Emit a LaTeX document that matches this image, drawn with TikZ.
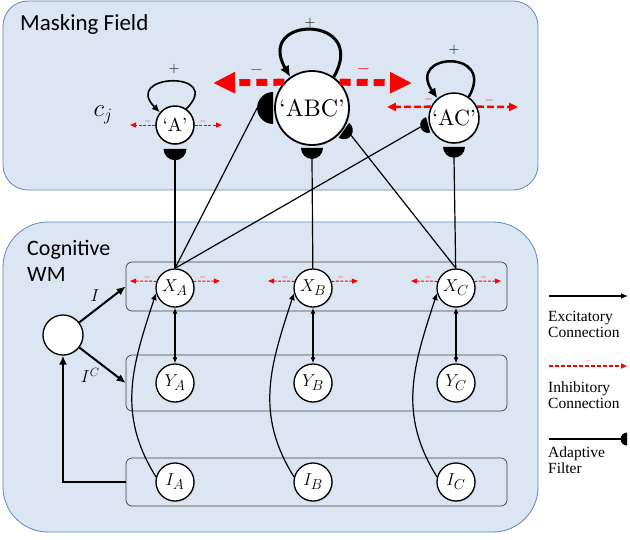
\documentclass[tikz,border=0pt]{standalone}
\usepackage{fontspec}
\newfontfamily\titlefont{Carlito}
\newfontfamily\keyfont{Liberation Serif}
\newfontfamily\chunkfont{lmroman10-regular}[Extension=.otf]
\usepackage{tikz}
\usetikzlibrary{arrows.meta, calc, shadows}

\definecolor{fieldfill}{RGB}{220,230,242}
\definecolor{fieldline}{RGB}{95,135,190}
\definecolor{inhred}{RGB}{250,0,0}

% half disc of an adaptive filter, flat side on the node
\newcommand{\halfdisc}[5]{%
  \coordinate (#5) at ($(#1.#2)+(#2:#4pt)+(#2:#3pt)$);
  \fill ($(#1.#2)+(#2:#4pt)+(#2+90:#3pt)$) arc[start angle=#2+90, end angle=#2-90, radius=#3pt] -- cycle;}

\begin{document}
\begin{tikzpicture}[x=1pt, y=-1pt]
  \tikzstyle{field} = [
    draw=fieldline,
    fill=fieldfill,
    line width=0.8pt
  ]

  \tikzstyle{row} = [
    draw=black!75,
    rounded corners=6pt,
    line width=0.7pt,
    inner sep=0pt,
    minimum width=381pt
  ]

  \tikzstyle{cell} = [
    circle,
    draw,
    fill=white,
    line width=1.3pt,
    inner sep=0pt,
    minimum size=38pt,
    font=\fontsize{19}{19}\selectfont,
    drop shadow={shadow xshift=1pt, shadow yshift=-1pt, opacity=0.3}
  ]

  \tikzstyle{excite} = [line width=1.2pt, -{Latex[length=7pt, width=6pt]}]
  \tikzstyle{both} = [line width=1.2pt, {Latex[length=6pt, width=5pt]}-{Latex[length=6pt, width=5pt]}]
  \tikzstyle{link} = [line width=1.2pt]
  \tikzstyle{inhib} = [inhred, line width=1pt, dash pattern=on 3pt off 1.5pt, -{Triangle[length=6pt, width=5pt]}]
  \tikzstyle{inhibmid} = [inhred, line width=2.5pt, dash pattern=on 7pt off 3pt, -{Triangle[length=9pt, width=8pt]}]
  \tikzstyle{inhibbig} = [inhred, line width=7pt, dash pattern=on 11pt off 6pt, -{Triangle[length=22pt, width=20pt]}]
  \tikzstyle{minus} = [inhred, inner sep=0.5pt, font=\fontsize{8}{8}\selectfont]
  \tikzstyle{key} = [align=left, inner sep=0pt, font=\keyfont\fontsize{15.5}{16}\selectfont]
  \tikzstyle{plus} = [font=\fontsize{15}{15}\selectfont]

  \fill[white] (0,0) rectangle (630,539);
  \useasboundingbox (0,0) rectangle (630,539);

  % masking field
  \draw[field, rounded corners=25pt] (3,1) rectangle (538,190);
  \node[anchor=base west, inner sep=0pt, font=\titlefont\fontsize{23}{23}\selectfont] (mftitle) at (20,30) {Masking Field};

  % cognitive working memory
  \draw[field, rounded corners=45pt] (3,222) rectangle (538,532);
  \node[anchor=north west, align=left, inner sep=0pt, font=\titlefont\fontsize{22}{26}\selectfont] (wmtitle) at (27,240) {Cognitive\\WM};

  \node[row, minimum height=49pt] (rowX) at (316.5,286.5) {};
  \node[row, minimum height=56pt] (rowY) at (316.5,383) {};
  \node[row, minimum height=48pt] (rowI) at (316.5,482) {};

  \foreach \col/\px in {A/175, B/313, C/456} {
    \node[cell] (X\col) at (\px,288) {$X_\col$};
    \node[cell] (Y\col) at (\px,383) {$Y_\col$};
    \node[cell] (I\col) at (\px,482) {$I_\col$};
    \draw[both] (X\col) -- (Y\col);
    \draw[excite] (I\col.165) to[out=122, in=252, looseness=1.05] (X\col.195);
    \coordinate (X\col-w) at (\px-45,281);
    \coordinate (X\col-e) at (\px+45,281);
    \draw[inhib] (X\col.160) -- (X\col-w) node[minus, pos=0.35, above] {$-$};
    \draw[inhib] (X\col.20) -- (X\col-e) node[minus, pos=0.35, above] {$-$};
  }

  % input node
  \node[cell, minimum size=40pt] (input) at (63,335) {};
  \draw[excite, line width=2pt, -{Latex[length=9pt, width=8pt]}] (input) -- (rowX.west)
    node[midway, above left, inner sep=2pt, font=\fontsize{18}{18}\selectfont] {$I$};
  \draw[excite, line width=2pt, -{Latex[length=9pt, width=8pt]}] (input) -- (rowY.west)
    node[midway, below left, inner sep=2pt, font=\fontsize{18}{18}\selectfont] {$I^C$};
  \draw[excite, line width=2.5pt, -{Latex[length=9pt, width=8pt]}] (rowI.west) -| (input);

  % chunk cells
  \node[cell, minimum size=38pt, line width=1.5pt, font=\chunkfont\fontsize{19}{19}\selectfont] (A) at (175,125) {‘A’};
  \node[cell, minimum size=74pt, line width=1.8pt, font=\chunkfont\fontsize{24}{24}\selectfont] (ABC) at (312,108) {‘ABC’};
  \node[cell, minimum size=50pt, line width=1.5pt, font=\chunkfont\fontsize{22}{22}\selectfont] (AC) at (454,118) {‘AC’};
  \node[font=\fontsize{24}{24}\selectfont] (cj) at (103,115) {$c_j$};

  \draw[line width=1.6pt, -{Latex[length=8pt, width=7pt]}] (A.55) to[out=45, in=135, distance=55pt] (A.140);
  \node[plus] (plusA) at (174,69) {$+$};
  \draw[line width=3pt, -{Latex[length=11pt, width=10pt]}] (ABC.55) to[out=60, in=120, distance=72pt] (ABC.125);
  \node[plus] (plusABC) at (310,23) {$+$};
  \draw[line width=2.5pt, -{Latex[length=10pt, width=9pt]}] (AC.55) to[out=60, in=125, distance=56pt] (AC.130);
  \node[plus] (plusAC) at (454,50) {$+$};

  \coordinate (A-w) at (130,125);
  \coordinate (A-e) at (222,125);
  \draw[inhib] (A) -- (A-w) node[minus, pos=0.3, above] {$-$};
  \draw[inhib] (A) -- (A-e) node[minus, pos=0.3, above] {$-$};
  \coordinate (ABC-w) at (213,83);
  \coordinate (ABC-e) at (412,83);
  \draw[inhibbig] (ABC.137) -- (ABC-w) node[minus, pos=0.39, above=3pt, font=\fontsize{16}{16}\selectfont] {$-$};
  \draw[inhibbig] (ABC.43) -- (ABC-e) node[minus, pos=0.33, above=3pt, font=\fontsize{16}{16}\selectfont] {$-$};
  \coordinate (AC-w) at (387,107);
  \coordinate (AC-e) at (518,107);
  \draw[inhibmid] (AC.154) -- (AC-w) node[minus, pos=0.05, above=1pt, font=\fontsize{12}{12}\selectfont] {$-$};
  \draw[inhibmid] (AC.26) -- (AC-e) node[minus, pos=0.3, above=1pt, font=\fontsize{12}{12}\selectfont] {$-$};

  % adaptive filters
  \halfdisc{A}{270}{11.5}{4}{fA}
  \halfdisc{ABC}{270}{11}{2}{fABC}
  \halfdisc{AC}{270}{11}{3}{fAC}
  \halfdisc{ABC}{180}{16}{1}{fABCw}
  \halfdisc{ABC}{325}{9}{1}{fABCe}
  \halfdisc{AC}{195}{8}{1}{fACw}

  \draw[link] (XA) -- (fA);
  \draw[link] (XB) -- (fABC);
  \draw[link] (XC) -- (fAC);
  \draw[link] (XA.north) -- (fABCw);
  \draw[link] (XA.north) -- (fACw);
  \draw[link] (XC.north) -- (fABCe);

  % legend
  \coordinate (exc-a) at (549,296);
  \coordinate (exc-b) at (628,296);
  \draw[excite] (exc-a) -- (exc-b);
  \node[key, anchor=north west] (exc-text) at (548,311) {Excitatory\\Connection};
  \coordinate (inh-a) at (549,366);
  \coordinate (inh-b) at (627,366);
  \draw[inhib, line width=1.5pt, dash pattern=on 4pt off 2pt] (inh-a) -- (inh-b) node[minus, midway, above] {$-$};
  \node[key, anchor=north west] (inh-text) at (548,382) {Inhibitory\\Connection};
  \coordinate (ada-a) at (549,439);
  \coordinate (ada-b) at (621,439);
  \draw[link] (ada-a) -- (ada-b);
  \fill (627,432.5) arc[start angle=90, end angle=270, radius=6.5pt] -- cycle;
  \node[key, anchor=north west] (ada-text) at (548,447) {Adaptive\\Filter};
\end{tikzpicture}
\end{document}
